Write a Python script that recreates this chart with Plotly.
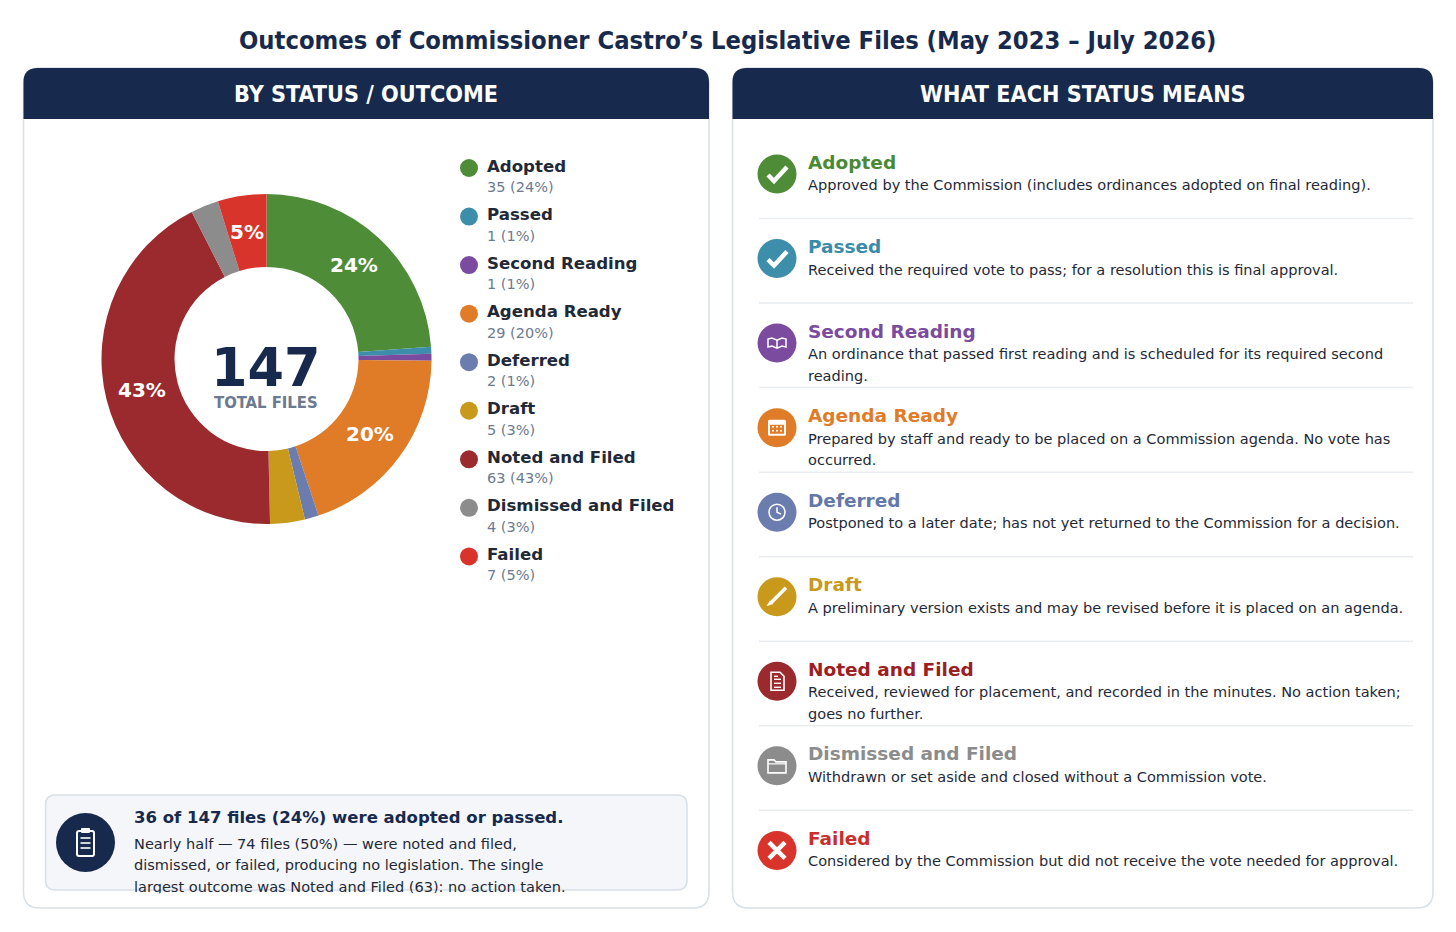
import math
import plotly.graph_objects as go

statuses = ["Adopted", "Passed", "Second Reading", "Agenda Ready", "Deferred", "Draft",
            "Noted and Filed", "Dismissed and Filed", "Failed"]
counts = [35, 1, 1, 29, 2, 5, 63, 4, 7]
percents = [24, 1, 1, 20, 1, 3, 43, 3, 5]
slice_labels = ["24%", "", "", "20%", "", "", "43%", "", "5%"]
colors = ["#4E8C38", "#3D8EAB", "#7B4BA0", "#E07B27", "#6B7DAE", "#C8991A", "#9B2A2E", "#8C8C8C", "#D9342B"]
title_colors = ["#4A8A35", "#3A8BA8", "#7B4BA0", "#E07B27", "#6478A8", "#C8991A", "#9B2024", "#8C8C8C", "#C9302B"]
descriptions = [
    ["Approved by the Commission (includes ordinances adopted on final reading)."],
    ["Received the required vote to pass; for a resolution this is final approval."],
    ["An ordinance that passed first reading and is scheduled for its required second", "reading."],
    ["Prepared by staff and ready to be placed on a Commission agenda. No vote has", "occurred."],
    ["Postponed to a later date; has not yet returned to the Commission for a decision."],
    ["A preliminary version exists and may be revised before it is placed on an agenda."],
    ["Received, reviewed for placement, and recorded in the minutes. No action taken;", "goes no further."],
    ["Withdrawn or set aside and closed without a Commission vote."],
    ["Considered by the Commission but did not receive the vote needed for approval."],
]
callout_title = "36 of 147 files (24%) were adopted or passed."
callout_lines = ["Nearly half \u2014 74 files (50%) \u2014 were noted and filed,",
                 "dismissed, or failed, producing no legislation. The single",
                 "largest outcome was Noted and Filed (63): no action taken."]

NAVY = "#172A4D"
BORDER = "#D8E0E8"
SANS = "DejaVu Sans"
COND = "DejaVu Sans Condensed, DejaVu Sans"

shapes = []
annotations = []


def text(x, y, s, size, color, bold=False, anchor="left", family=SANS):
    # annotations pad their box by 2px, take it back on left aligned text
    annotations.append(dict(x=x-2 if anchor == "left" else x, y=y, text=f"<b>{s}</b>" if bold else s,
                            xref="x", yref="y", xanchor=anchor, yanchor="middle", align=anchor,
                            showarrow=False, font=dict(family=family, size=size, color=color)))


def rounded(x0, y0, x1, y1, r, top_only=False):
    bottom = f"L{x1},{y1}L{x0},{y1}" if top_only else \
        f"L{x1},{y1-r}Q{x1},{y1} {x1-r},{y1}L{x0+r},{y1}Q{x0},{y1} {x0},{y1-r}"
    return f"M{x0},{y0+r}Q{x0},{y0} {x0+r},{y0}L{x1-r},{y0}Q{x1},{y0} {x1},{y0+r}{bottom}Z"


def path(d, fill="rgba(0,0,0,0)", line=None, width=0):
    shapes.append(dict(type="path", path=d, xref="x", yref="y", fillcolor=fill, layer="below",
                       line=dict(color=line or "rgba(0,0,0,0)", width=width)))


def circle(cx, cy, r, fill="rgba(0,0,0,0)", line=None, width=0):
    shapes.append(dict(type="circle", x0=cx-r, x1=cx+r, y0=cy-r, y1=cy+r, xref="x", yref="y",
                       fillcolor=fill, layer="below", line=dict(color=line or "rgba(0,0,0,0)", width=width)))


def poly(cx, cy, pts, width=2, close=False, fill=None):
    d = "M" + "L".join(f"{cx+a},{cy+b}" for a, b in pts) + ("Z" if close else "")
    path(d, fill=fill or "rgba(0,0,0,0)", line="white", width=width)


def icon(kind, cx, cy, color):
    circle(cx, cy, 19.5, fill=color)
    if kind == "check":
        poly(cx, cy, [(-9, 1), (-3, 7), (10, -7)], width=4.5)
    elif kind == "book":
        poly(cx, cy, [(0, -3), (-5, -5), (-9, -4), (-9, 4), (-5, 3), (0, 5), (5, 3), (9, 4), (9, -4), (5, -5)], width=1.5, close=True)
        poly(cx, cy, [(0, -3), (0, 5)], width=1.5)
    elif kind == "calendar":
        path(rounded(cx-9, cy-8, cx+9, cy+8, 1.5), fill="white")
        path(rounded(cx-7, cy-3, cx+7, cy+6, 0.5), fill=color)
        for a in (-4, 0, 4):
            for b in (-1, 3):
                circle(cx+a, cy+b, 1, fill="white")
    elif kind == "clock":
        circle(cx, cy, 8, line="white", width=1.5)
        poly(cx, cy, [(0, -5), (0, 0), (4, 2)], width=1.5)
    elif kind == "pencil":
        poly(cx, cy, [(9, -9), (-6, 6)], width=3.5)
        poly(cx, cy, [(-7, 4), (-4, 7), (-10, 9)], width=0.5, close=True, fill="white")
    elif kind == "doc":
        poly(cx, cy, [(-6, -9), (3, -9), (7, -5), (7, 9), (-6, 9)], width=1.6, close=True)
        for b in (-2, 2, 6):
            poly(cx, cy, [(-3, b), (4, b)], width=1.4)
        poly(cx, cy, [(-3, -5), (1, -5)], width=1.4)
    elif kind == "folder":
        poly(cx, cy, [(-9, -6), (-3, -6), (-1, -4), (9, -4), (9, 7), (-9, 7)], width=1.6, close=True)
        poly(cx, cy, [(-9, -2), (9, -2)], width=1.2)
    elif kind == "cross":
        poly(cx, cy, [(-8, -8), (8, 8)], width=4.5)
        poly(cx, cy, [(-8, 8), (8, -8)], width=4.5)


# panels
for x0, x1, label in [(23.5, 709, "BY STATUS / OUTCOME"), (732.5, 1433, "WHAT EACH STATUS MEANS")]:
    path(rounded(x0, 68, x1, 908, 16), fill="white", line=BORDER, width=1.5)
    path(rounded(x0, 68, x1, 119, 14, top_only=True), fill=NAVY)
    text((x0+x1)/2, 93.5, label, 23.2, "white", bold=True, anchor="center", family=COND)

text(728, 40, "Outcomes of Commissioner Castro\u2019s Legislative Files (May 2023 \u2013 July 2026)",
     25.3, NAVY, bold=True, anchor="center", family=COND)

# legend
for i, name in enumerate(statuses):
    y = 167 + 48.55 * i
    circle(469, y+1, 9, fill=colors[i])
    text(487, y-1, name, 16.6, "#1F2937", bold=True)
    text(487, y+20, f"{counts[i]} ({percents[i]}%)", 14.5, "#6B7A90")

# ring labels sit mid-ring, at the middle angle of their slice
RING_X, RING_Y, RING_R = 266.5, 359, 128
total = sum(counts)
before = 0
for count, label in zip(counts, slice_labels):
    angle = 2 * math.pi * (before + count / 2) / total
    before += count
    if label:
        text(RING_X + RING_R * math.sin(angle), RING_Y - RING_R * math.cos(angle), label, 20, "white",
             bold=True, anchor="center")

# center of the ring
text(266, 367, str(total), 52.5, NAVY, bold=True, anchor="center")
text(266, 402, "TOTAL FILES", 16.5, "#6B7A90", bold=True, anchor="center", family=COND)

# status explanations
kinds = ["check", "check", "book", "calendar", "clock", "pencil", "doc", "folder", "cross"]
for i, name in enumerate(statuses):
    y = 174 + 84.55 * i
    icon(kinds[i], 777, y, colors[i])
    text(808, y-12, name, 18.5, title_colors[i], bold=True)
    for j, line in enumerate(descriptions[i]):
        text(808, y+10.5+21.5*j, line, 14.55, "#1F2937")
    if i < 8:
        shapes.append(dict(type="line", x0=759, x1=1413, y0=y+44.5, y1=y+44.5, xref="x", yref="y",
                           layer="below", line=dict(color="#E9EDF1", width=1.5)))

# callout
path(rounded(45.5, 795, 687, 890, 10), fill="#F4F6F9", line=BORDER, width=1.5)
circle(85.5, 842.5, 29.5, fill=NAVY)
path(rounded(77, 831, 94, 856, 2), line="white", width=2)
path(rounded(81, 828, 90, 833, 1), fill="white")
for b in (838, 843, 848):
    poly(0, 0, [(80.5, b), (90.5, b)], width=1.6)
text(134, 817, callout_title, 16.5, NAVY, bold=True)
for j, line in enumerate(callout_lines[:2]):
    text(134, 843+21.5*j, line, 14.55, "#1F2937")

fig = go.Figure(go.Pie(
    labels=statuses, values=counts, textinfo="none", sort=False,
    direction="clockwise", rotation=0, hole=92/165, marker=dict(colors=colors),
    hoverinfo="label+value+percent", showlegend=False,
    domain=dict(x=[101.5/1456, 431.5/1456], y=[(932-524)/932, (932-194)/932]),
))
# last callout line runs past the box, its descenders get cut off, as a trace it can go under a shape
fig.add_trace(go.Scatter(x=[134], y=[888], mode="text", text=[callout_lines[2]], textposition="middle right",
                         textfont=dict(family=SANS, size=14.55, color="#1F2937"), hoverinfo="skip",
                         showlegend=False, cliponaxis=False))
shapes.append(dict(type="rect", x0=60, x1=672, y0=893.3, y1=898, xref="x", yref="y", layer="above",
                   fillcolor="white", line=dict(width=0)))

fig.update_layout(
    width=1456, height=932, margin=dict(l=0, r=0, t=0, b=0),
    paper_bgcolor="white", plot_bgcolor="rgba(0,0,0,0)", showlegend=False,
    xaxis=dict(range=[0, 1456], visible=False, fixedrange=True),
    yaxis=dict(range=[932, 0], visible=False, fixedrange=True),
    shapes=shapes, annotations=annotations,
)
fig.write_html("out.html", config=dict(displayModeBar=False),
               post_script="document.body.style.margin='0';document.body.style.overflow='hidden';")
